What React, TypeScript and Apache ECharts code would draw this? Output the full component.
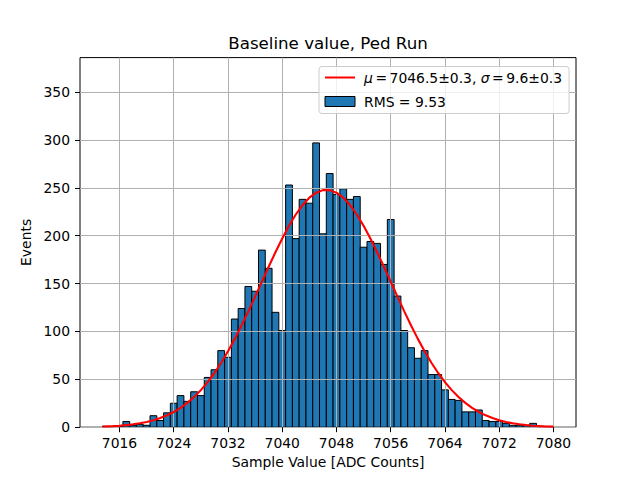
import React, { useEffect, useRef } from "react";
import * as echarts from "echarts";

const FONT = "DejaVu Sans";

const titleText = "Baseline value, Ped Run";
const xAxisName = "Sample Value [ADC Counts]";
const yAxisName = "Events";
const fitName = "μ = 7046.5±0.3, σ = 9.6±0.3";
const fitRich = "{i|μ}{s| }={s| }7046.5±0.3, {i|σ}{s| }={s| }9.6±0.3";
const histName = "RMS = 9.53";

const binWidth = 1;
const binCenters = [
  7014, 7015, 7016, 7017, 7018, 7019, 7020, 7021, 7022, 7023, 7024, 7025, 7026, 7027, 7028,
  7029, 7030, 7031, 7032, 7033, 7034, 7035, 7036, 7037, 7038, 7039, 7040,
  7041, 7042, 7043, 7044, 7045, 7046, 7047, 7048, 7049, 7050, 7051, 7052,
  7053, 7054, 7055, 7056, 7057, 7058, 7059, 7060, 7061, 7062, 7063, 7064,
  7065, 7066, 7067, 7068, 7069, 7070, 7071, 7072, 7073, 7074, 7075, 7076, 7077, 7078, 7079,
];
const counts = [
  1, 0, 1, 6, 2, 3, 2, 12, 7, 15, 25, 33, 27, 37, 33,
  52, 60, 80, 73, 113, 124, 147, 142, 185, 166, 120, 101,
  253, 197, 238, 234, 297, 202, 265, 243, 249, 238, 241, 188,
  194, 192, 170, 217, 137, 101, 83, 72, 80, 55, 55, 39,
  29, 28, 16, 16, 18, 7, 6, 6, 4, 2, 2, 2, 4, 1, 0,
];

const fitX = [
  7013.5, 7014, 7015, 7016, 7017, 7018, 7019, 7020, 7021, 7022, 7023, 7024, 7025, 7026, 7027,
  7028, 7029, 7030, 7031, 7032, 7033, 7034, 7035, 7036, 7037, 7038, 7039, 7040,
  7041, 7042, 7043, 7044, 7045, 7046, 7047, 7048, 7049, 7050, 7051, 7052,
  7053, 7054, 7055, 7056, 7057, 7058, 7059, 7060, 7061, 7062, 7063, 7064,
  7065, 7066, 7067, 7068, 7069, 7070, 7071, 7072, 7073, 7074, 7075, 7076,
  7077, 7078, 7079, 7080,
];
const fitY = [
  0.67, 0.8, 1.14, 1.59, 2.21, 3.02, 4.1, 5.49, 7.28, 9.55, 12.4, 15.9, 20.19, 25.37, 31.51,
  38.72, 47.08, 56.62, 67.36, 79.26, 92.27, 106.24, 121.02, 136.37, 151.99, 167.58, 182.77, 197.2,
  210.46, 222.2, 232.05, 239.73, 244.99, 247.66, 247.66, 244.99, 239.73, 232.05, 222.2, 210.46,
  197.2, 182.77, 167.58, 151.99, 136.37, 121.02, 106.24, 92.27, 79.26, 67.36, 56.62, 47.08,
  38.72, 31.51, 25.37, 20.19, 15.9, 12.4, 9.55, 7.28, 5.49, 4.1, 3.02, 2.21,
  1.59, 1.14, 0.8, 0.56,
];

const xTicks = [7016, 7024, 7032, 7040, 7048, 7056, 7064, 7072, 7080];
const yTicks = [0, 50, 100, 150, 200, 250, 300, 350];
const xRange = [7010.175, 7083.325];
const yRange = [0, 386.1];

export default function App() {
  const ref = useRef<HTMLDivElement>(null);
  useEffect(() => {
    if (!ref.current) return;
    const chart = echarts.init(ref.current, undefined, { renderer: "svg" });
    const histData = binCenters.map((c, i) => [c, counts[i]]);
    const fitData = fitX.map((x, i) => [x, fitY[i]]);
    chart.setOption({
      animation: false,
      backgroundColor: "#ffffff",
      textStyle: { fontFamily: FONT },
      title: {
        text: titleText,
        left: 328,
        top: 35,
        padding: 0,
        textAlign: "center",
        textStyle: { fontFamily: FONT, fontSize: 16.67, fontWeight: "normal", color: "#000" },
      },
      grid: {
        left: 80,
        top: 57.6,
        width: 496,
        height: 369.6,
        show: true,
        borderColor: "#000",
        borderWidth: 1,
        backgroundColor: "transparent",
        containLabel: false,
      },
      legend: {
        left: 319,
        top: 66.5,
        orient: "vertical",
        align: "left",
        padding: [4, 7, 5, 5],
        itemGap: 10,
        itemWidth: 30,
        itemHeight: 10,
        backgroundColor: "rgba(255,255,255,0.8)",
        borderColor: "#cccccc",
        borderWidth: 1,
        borderRadius: 3,
        textStyle: {
          fontFamily: FONT,
          fontSize: 13.9,
          color: "#000",
          padding: [0, 0, 0, 4],
          rich: {
            i: { fontFamily: FONT, fontSize: 13.9, fontStyle: "italic", color: "#000" },
            s: { fontFamily: FONT, fontSize: 8, color: "#000" },
          },
        },
        formatter: (name: string) => (name === fitName ? fitRich : name),
        data: [
          { name: fitName, itemStyle: { opacity: 0, color: "transparent", borderWidth: 0 } },
          { name: histName, icon: "rect", itemStyle: { color: "#1f77b4", borderColor: "#000", borderWidth: 1 } },
        ],
      },
      xAxis: {
        type: "value",
        min: xRange[0],
        max: xRange[1],
        z: 3,
        name: xAxisName,
        nameLocation: "middle",
        nameGap: 28,
        nameTextStyle: { fontFamily: FONT, fontSize: 13.9, color: "#000" },
        axisLine: { show: false },
        axisTick: { show: true, inside: false, length: 5, lineStyle: { color: "#000", width: 1 }, customValues: xTicks },
        axisLabel: {
          show: true,
          margin: 9,
          fontFamily: FONT,
          fontSize: 13.9,
          color: "#000",
          customValues: xTicks,
          formatter: (v: number) => String(v),
        },
        splitLine: { show: true, lineStyle: { color: "#b0b0b0", width: 1 } },
      },
      yAxis: {
        type: "value",
        min: yRange[0],
        max: yRange[1],
        z: 3,
        name: yAxisName,
        nameLocation: "middle",
        nameGap: 38,
        nameRotate: 90,
        nameTextStyle: { fontFamily: FONT, fontSize: 13.9, color: "#000" },
        axisLine: { show: false },
        axisTick: { show: true, inside: false, length: 5, lineStyle: { color: "#000", width: 1 }, customValues: yTicks },
        axisLabel: {
          show: true,
          margin: 10,
          fontFamily: FONT,
          fontSize: 13.9,
          color: "#000",
          customValues: yTicks,
          formatter: (v: number) => String(v),
        },
        splitLine: { show: true, lineStyle: { color: "#b0b0b0", width: 1 } },
      },
      series: [
        {
          name: histName,
          type: "custom",
          z: 2,
          itemStyle: { color: "#1f77b4", borderColor: "#000", borderWidth: 1 },
          encode: { x: 0, y: 1 },
          data: histData,
          renderItem: (params: any, api: any) => {
            const c = api.value(0);
            const v = api.value(1);
            const p0 = api.coord([c - binWidth / 2, 0]);
            const p1 = api.coord([c + binWidth / 2, v]);
            return {
              type: "rect",
              shape: { x: p0[0], y: p1[1], width: p1[0] - p0[0], height: p0[1] - p1[1] },
              style: { fill: "#1f77b4", stroke: "#000", lineWidth: 1 },
            };
          },
        },
        {
          name: fitName,
          type: "line",
          z: 5,
          data: fitData,
          smooth: false,
          symbol: "none",
          showSymbol: false,
          color: "#ff0000",
          lineStyle: { color: "#ff0000", width: 2.1 },
        },
      ],
    });
    return () => chart.dispose();
  }, []);
  return (
    <div
      ref={ref}
      style={{ position: "fixed", left: 0, top: 0, width: 640, height: 480, background: "#fff" }}
    />
  );
}
